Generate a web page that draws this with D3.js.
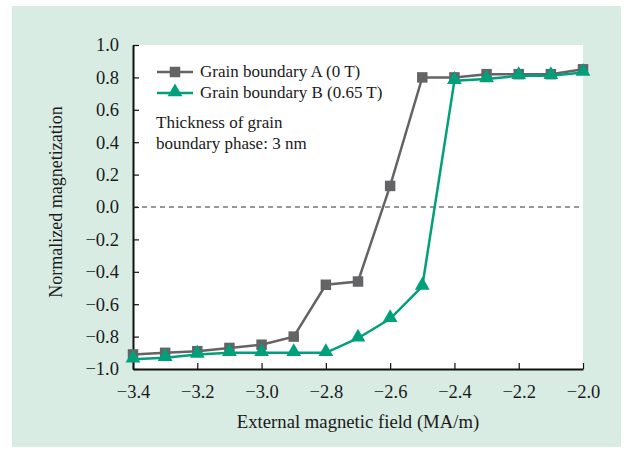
<!DOCTYPE html>
<html>
<head>
<meta charset="utf-8">
<script src="https://cdn.jsdelivr.net/npm/d3@7"></script>
<style>
  html, body { margin: 0; padding: 0; background: #fff; }
  svg { display: block; }
  svg text { font-family: "Liberation Serif", "Times New Roman", Times, serif !important; }
</style>
</head>
<body>
<script>
// data
const field = [-3.4, -3.3, -3.2, -3.1, -3.0, -2.9, -2.8, -2.7, -2.6, -2.5, -2.4, -2.3, -2.2, -2.1, -2.0];
const boundaryA = [-0.91, -0.90, -0.89, -0.87, -0.85, -0.80, -0.48, -0.46, 0.13, 0.80, 0.80, 0.82, 0.82, 0.82, 0.85];
const boundaryB = [-0.94, -0.93, -0.91, -0.90, -0.90, -0.90, -0.90, -0.81, -0.69, -0.49, 0.78, 0.79, 0.81, 0.81, 0.83];
const xTicks = [-3.4, -3.2, -3.0, -2.8, -2.6, -2.4, -2.2, -2.0];
const yTicks = [-1.0, -0.8, -0.6, -0.4, -0.2, 0.0, 0.2, 0.4, 0.6, 0.8, 1.0];
const seriesNames = ["Grain boundary A (0 T)", "Grain boundary B (0.65 T)"];
const noteLines = ["Thickness of grain", "boundary phase: 3 nm"];

const W = 631, H = 452;
const grey = "#646466", green = "#00a07a", ink = "#1a1a1a";

const svg = d3.select("body").append("svg")
  .attr("width", W).attr("height", H);

// light green panel
svg.append("rect").attr("x", 12).attr("y", 6).attr("width", 609).attr("height", 441)
  .attr("fill", "#d8ece3");

const x = d3.scaleLinear().domain([-3.4, -2.0]).range([133, 583]);
const y = d3.scaleLinear().domain([-1.0, 1.0]).range([369, 45]);

// white plot area
svg.append("rect").attr("x", x(-3.4)).attr("y", y(1)).attr("width", x(-2.0) - x(-3.4))
  .attr("height", y(-1) - y(1)).attr("fill", "#fff");

const fmt = d => (d < 0 ? "\u2212" : "") + Math.abs(d).toFixed(1);

// axes, ticks inside
const gx = svg.append("g").attr("transform", `translate(0,${y(-1)})`)
  .call(d3.axisBottom(x).tickValues(xTicks).tickFormat(fmt).tickSizeInner(-6).tickSizeOuter(0).tickPadding(12));
const gy = svg.append("g").attr("transform", `translate(${x(-3.4)},0)`)
  .call(d3.axisLeft(y).tickValues(yTicks).tickFormat(fmt).tickSizeInner(-6).tickSizeOuter(0).tickPadding(14));
[gx, gy].forEach(g => {
  g.select(".domain").attr("stroke", "#111").attr("stroke-width", 2);
  g.selectAll(".tick line").attr("stroke", "#111").attr("stroke-width", 1.2);
  g.selectAll(".tick text").attr("fill", ink).style("font-size", "18.5px");
});
gx.selectAll(".tick text").attr("dy", "0.9em");

// zero line
svg.append("line").attr("x1", x(-3.4)).attr("x2", x(-2.0)).attr("y1", y(0)).attr("y2", y(0))
  .attr("stroke", "#333").attr("stroke-width", 1).attr("stroke-dasharray", "5,4");

const line = d3.line().x((d, i) => x(field[i])).y(d => y(d));
const sq = d3.symbol().type(d3.symbolSquare).size(110);
const tri = d3.symbol().type(d3.symbolTriangle).size(95);

svg.append("path").datum(boundaryA).attr("d", line).attr("fill", "none")
  .attr("stroke", grey).attr("stroke-width", 2.5);
svg.append("g").selectAll("path").data(boundaryA).join("path")
  .attr("d", sq).attr("fill", grey)
  .attr("transform", (d, i) => `translate(${x(field[i])},${y(d)})`);

svg.append("path").datum(boundaryB).attr("d", line).attr("fill", "none")
  .attr("stroke", green).attr("stroke-width", 2.5);
svg.append("g").selectAll("path").data(boundaryB).join("path")
  .attr("d", tri).attr("fill", green)
  .attr("transform", (d, i) => `translate(${x(field[i])},${y(d) - 1})`);

// legend
const leg = svg.append("g");
[[grey, sq], [green, tri]].forEach((s, i) => {
  const ly = 72 + i * 21;
  leg.append("line").attr("x1", 157).attr("x2", 193).attr("y1", ly).attr("y2", ly)
    .attr("stroke", s[0]).attr("stroke-width", 2.5);
  leg.append("path").attr("d", s[1]).attr("fill", s[0]).attr("transform", `translate(175,${ly - (i ? 1 : 0)})`);
  leg.append("text").attr("x", 200).attr("y", ly + 5).text(seriesNames[i])
    .attr("fill", ink).style("font-size", "17px");
});

svg.append("g").selectAll("text").data(noteLines).join("text")
  .attr("x", 156).attr("y", (d, i) => 128 + i * 21).text(d => d)
  .attr("fill", ink).style("font-size", "17px");

// axis titles
svg.append("text").attr("x", (x(-3.4) + x(-2.0)) / 2).attr("y", 428).attr("text-anchor", "middle")
  .text("External magnetic field (MA/m)").attr("fill", ink).style("font-size", "18.7px");
svg.append("text").attr("transform", "translate(62,202) rotate(-90)").attr("text-anchor", "middle")
  .text("Normalized magnetization").attr("fill", ink).style("font-size", "18px");
</script>
</body>
</html>
